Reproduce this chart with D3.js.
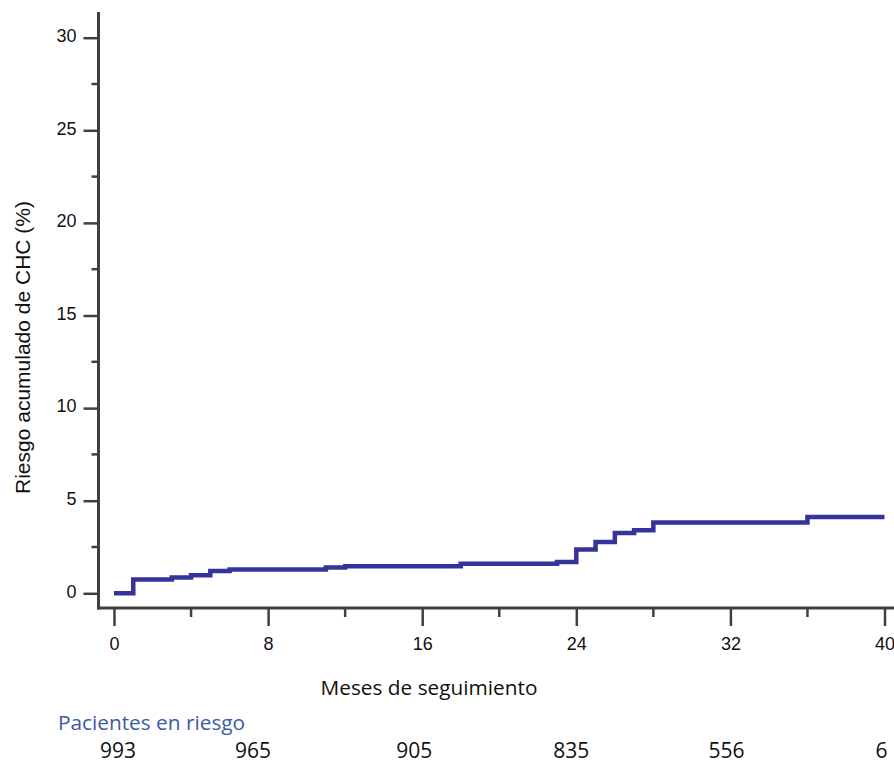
<!DOCTYPE html>
<html>
<head>
<meta charset="utf-8">
<script src="https://cdn.jsdelivr.net/npm/d3@7"></script>
<style>
    body { margin: 0; background: #ffffff; }
    svg { display: block; }
    .tick text { font-family: "Liberation Sans", Arial, sans-serif; font-size: 18px; fill: #111111; }
</style>
</head>
<body>
<svg id="chart" width="894" height="764"></svg>
<script>
// ---- data ----
// step function: value holds from its month until the next month
const stepMonths = [0, 1, 3, 4, 5, 6, 11, 12, 18, 23, 24, 25, 26, 27, 28, 36, 40];
const stepRisk   = [0, 0.75, 0.85, 0.97, 1.2, 1.28, 1.39, 1.46, 1.6, 1.69, 2.36, 2.77, 3.26, 3.4, 3.82, 4.12, 4.12];

const xTicks = [0, 8, 16, 24, 32, 40];
const xMinorTicks = [4, 12, 20, 28, 36];
const yTicks = [0, 5, 10, 15, 20, 25, 30];
const yMinorTicks = [2.5, 7.5, 12.5, 17.5, 22.5, 27.5];

const riskMonths = [0, 8, 16, 24, 32, 40];
const riskCounts = ["993", "965", "905", "835", "556", "6"];

const yTitle = "Riesgo acumulado de CHC (%)";
const xTitle = "Meses de seguimiento";
const riskTitle = "Pacientes en riesgo";

// ---- layout ----
const axisColor = "#404040";
const lineColor = "#34349a";
const riskOffsets = [4, -15, -8, -5, -4, -3]; // table columns sit a bit off the ticks

let svg = d3.select("#chart");

let x = d3.scaleLinear().domain([0, 40]).range([114, 884.5]);
let y = d3.scaleLinear().domain([0, 30]).range([593.3, 37.7]);

// y axis
let yAxis = d3.axisLeft(y).tickValues(yTicks).tickSize(15).tickPadding(7).tickFormat(d3.format("d"));
let yAxisGroup = svg.append("g")
    .attr("transform", "translate(98.5,0)")
    .call(yAxis);
yAxisGroup.select(".domain").remove();
yAxisGroup.selectAll(".tick text").attr("dy", "0.21em");

yAxisGroup.selectAll(".minor")
    .data(yMinorTicks)
    .join("line")
    .attr("class", "minor")
    .attr("x1", -7).attr("x2", 0)
    .attr("y1", d => y(d)).attr("y2", d => y(d));

// x axis
let xAxis = d3.axisBottom(x).tickValues(xTicks).tickSize(18).tickPadding(0).tickFormat(d3.format("d"));
let xAxisGroup = svg.append("g")
    .attr("transform", "translate(0,608)")
    .call(xAxis);
xAxisGroup.select(".domain").remove();
xAxisGroup.selectAll(".tick text").attr("y", 42).attr("dy", 0);

xAxisGroup.selectAll(".minor")
    .data(xMinorTicks)
    .join("line")
    .attr("class", "minor")
    .attr("x1", d => x(d)).attr("x2", d => x(d))
    .attr("y1", 0).attr("y2", 9);

svg.selectAll(".tick line, .minor")
    .attr("stroke", axisColor)
    .attr("stroke-width", 2.5);

// axis lines (L shape, running past the scale ranges like the original)
svg.append("line")
    .attr("x1", 98.5).attr("x2", 98.5)
    .attr("y1", 12).attr("y2", 609.5)
    .attr("stroke", axisColor).attr("stroke-width", 3);
svg.append("line")
    .attr("x1", 97).attr("x2", 894)
    .attr("y1", 608).attr("y2", 608)
    .attr("stroke", axisColor).attr("stroke-width", 3);

// cumulative risk step line
let stepData = stepMonths.map((m, i) => ({ month: m, risk: stepRisk[i] }));
let line = d3.line()
    .x(d => x(d.month))
    .y(d => y(d.risk))
    .curve(d3.curveStepAfter);

svg.append("path")
    .datum(stepData)
    .attr("d", line)
    .attr("fill", "none")
    .attr("stroke", lineColor)
    .attr("stroke-width", 4.5);

// titles
svg.append("text")
    .attr("transform", "translate(30,347.5) rotate(-90)")
    .attr("text-anchor", "middle")
    .style("font-family", "'Liberation Sans', Arial, sans-serif")
    .style("font-size", "21px")
    .style("fill", "#111111")
    .text(yTitle);

svg.append("text")
    .attr("x", 429)
    .attr("y", 695)
    .attr("text-anchor", "middle")
    .style("font-family", "'Open Sans', sans-serif")
    .style("font-size", "20.8px")
    .style("fill", "#111111")
    .text(xTitle);

svg.append("text")
    .attr("x", 58)
    .attr("y", 730)
    .style("font-family", "'Open Sans', sans-serif")
    .style("font-size", "20.8px")
    .style("fill", "#3b5ba5")
    .text(riskTitle);

// patients at risk row
svg.selectAll(".risk-count")
    .data(riskCounts)
    .join("text")
    .attr("class", "risk-count")
    .attr("x", (d, i) => x(riskMonths[i]) + riskOffsets[i])
    .attr("y", 758)
    .attr("text-anchor", "middle")
    .style("font-family", "'Open Sans', sans-serif")
    .style("font-size", "21px")
    .style("fill", "#111111")
    .text(d => d);
</script>
</body>
</html>
